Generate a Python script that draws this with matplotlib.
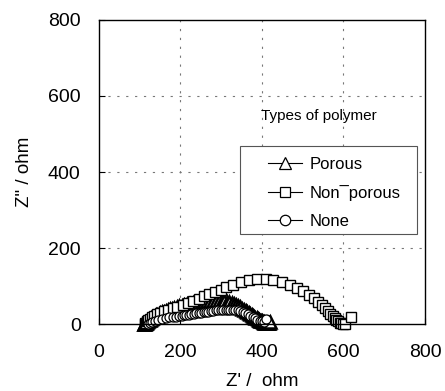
import matplotlib
matplotlib.use("Agg")
import matplotlib.pyplot as plt
from matplotlib.patches import Rectangle

plt.rcParams['font.family'] = ['Liberation Sans', 'DejaVu Sans']

# Porous (triangles)
porous_x = [111, 112, 113, 114, 115, 116, 117, 118, 119, 121, 123, 125, 127, 129, 131, 134,
            137, 140, 143, 147, 151, 155, 159, 164, 169, 174, 179, 185, 191, 197, 203, 210,
            217, 224, 231, 238, 245, 252, 259, 266, 273, 280, 287, 294, 301, 308, 314, 320,
            326, 332, 337, 342, 347, 352, 356, 360, 364, 368, 372, 375, 378, 381, 384, 387,
            390, 392, 394, 396, 398, 400, 402, 404, 406, 408, 410, 412, 414, 416, 418, 421]
porous_y = [0, 1, 1, 2, 3, 4, 5, 6, 7, 9, 10, 12, 14, 15, 17, 19,
            21, 23, 25, 27, 29, 31, 33, 35, 37, 39, 41, 43, 45, 47, 49, 50,
            52, 53, 55, 56, 57, 58, 59, 60, 60, 61, 61, 61, 60, 60, 59, 57,
            55, 53, 50, 47, 44, 41, 38, 35, 32, 29, 26, 24, 21, 19, 17, 15,
            13, 12, 10, 9, 8, 7, 6, 5, 4, 3, 3, 2, 2, 2, 3, 5]

# Non-porous (squares)
nonporous_x = [113, 114, 116, 118, 121, 125, 130, 136, 143, 151, 160, 170, 181, 193, 206, 219,
               232, 245, 258, 271, 285, 299, 313, 330, 348, 368, 389, 409, 428, 450, 470, 487,
               502, 516, 528, 538, 547, 555, 562, 568, 574, 579, 583, 587, 591, 595, 599, 603,
               619]
nonporous_y = [0, 2, 4, 7, 10, 14, 18, 22, 26, 30, 34, 38, 42, 46, 50, 55,
               61, 67, 73, 79, 85, 90, 97, 104, 110, 115, 118, 118, 116, 111, 103, 95,
               86, 77, 68, 59, 50, 42, 34, 27, 21, 15, 11, 7, 4, 2, 1, 1,
               19]

# None (circles)
none_x = [120, 125, 131, 138, 146, 155, 164, 173, 182, 190, 197, 203, 209, 215, 221, 227,
          233, 239, 245, 251, 257, 263, 269, 275, 281, 287, 293, 299, 305, 311, 317, 323,
          329, 335, 341, 347, 353, 359, 365, 371, 377, 383, 389, 395, 400, 404, 411]
none_y = [0, 3, 6, 9, 12, 14, 16, 18, 19, 20, 21, 22, 23, 24, 25, 26,
          27, 28, 29, 30, 31, 32, 33, 34, 35, 36, 36, 37, 37, 38, 38, 38,
          38, 38, 37, 35, 32, 29, 26, 22, 19, 15, 12, 9, 7, 6, 14]

labels = ['Porous', 'Non\u00afporous', 'None']
x_ticks = [0, 200, 400, 600, 800]
y_ticks = [0, 200, 400, 600, 800]

fig = plt.figure(figsize=(4.45, 3.91), dpi=100)
ax = fig.add_axes([0.222, 0.171, 0.733, 0.778])

common = dict(color='black', lw=0.8, mfc='white', mec='black', clip_on=False)
ax.plot(porous_x, porous_y, marker='^', ms=8, mew=1.8, label=labels[0], **common)
ax.plot(nonporous_x, nonporous_y, marker='s', ms=7.5, mew=1.0, label=labels[1], **common)
ax.plot(none_x, none_y, marker='o', ms=6.5, mew=0.9, label=labels[2], **common)

ax.set_xlim(0, 800)
ax.set_ylim(0, 800)
ax.set_xticks(x_ticks)
ax.set_yticks(y_ticks)
ax.tick_params(direction='in', length=4, width=0.8, labelsize=14)
ax.tick_params(axis='x', pad=14)
ax.tick_params(axis='y', pad=13)

for v in [200, 400, 600]:
    ax.axvline(v, color='#777777', lw=0.8, ls=(0, (2, 6)), zorder=0)
    ax.axhline(v, color='#777777', lw=0.8, ls=(0, (2, 6)), zorder=0)

for s in ax.spines.values():
    s.set_linewidth(1.0)

ax.set_xlabel("Z' /  ohm", fontsize=13.5, labelpad=9)
ax.set_ylabel('Z" / ohm', fontsize=13.5, labelpad=11)

ax.text(0.675, 0.685, 'Types of polymer', transform=ax.transAxes, fontsize=11,
        ha='center', va='center')

box = Rectangle((0.434, 0.296), 0.541, 0.289, transform=ax.transAxes,
                facecolor='white', edgecolor='#555555', lw=0.8, zorder=4)
ax.add_patch(box)
leg = ax.legend(loc='upper left', bbox_to_anchor=(0.52, 0.549), fontsize=12,
                frameon=False, handlelength=2.0, borderpad=0, labelspacing=0.78,
                borderaxespad=0, handletextpad=0.5)
leg.set_zorder(5)
for h, ms in zip(leg.legend_handles, [8, 7.5, 7.5]):
    h.set_markeredgewidth(0.9)
    h.set_markersize(ms)

fig.savefig('out.png', dpi=100)
